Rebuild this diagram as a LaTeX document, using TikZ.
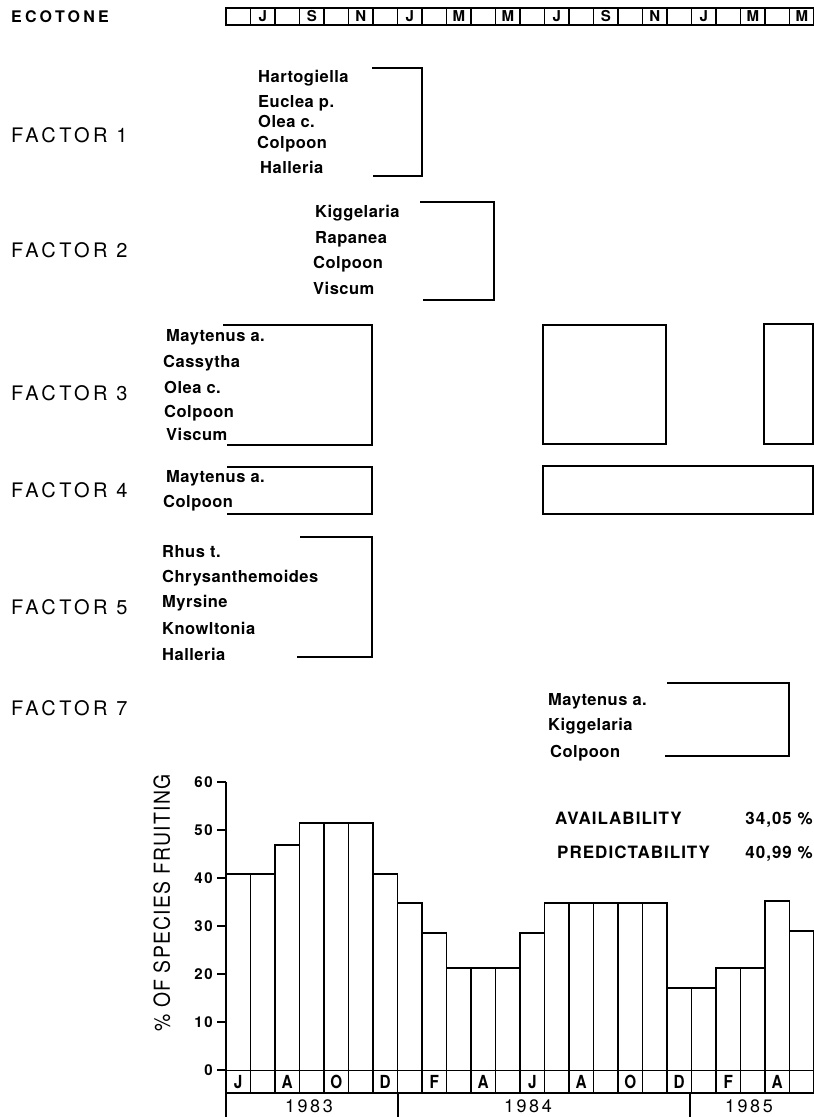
\documentclass[tikz,border=0pt]{standalone}
\usepackage{fontspec}
\setmainfont{TeX Gyre Heros}
\newfontfamily\spf[LetterSpace=3]{TeX Gyre Heros}
\newfontfamily\facf[LetterSpace=17]{TeX Gyre Heros}
\newfontfamily\ecof[LetterSpace=20]{TeX Gyre Heros}
\newfontfamily\numf[LetterSpace=12]{TeX Gyre Heros}
\newfontfamily\avf[LetterSpace=6]{TeX Gyre Heros}
\newfontfamily\ylf[LetterSpace=6,FakeStretch=0.88]{TeX Gyre Heros}
\newfontfamily\yrf[LetterSpace=14]{TeX Gyre Heros}
\newfontfamily\mof{TeX Gyre Heros}
\newfontfamily\cmof[FakeStretch=0.85]{TeX Gyre Heros}
\tikzset{
  sp/.style={anchor=west, inner sep=0pt, text height=11.8pt, text depth=0pt, font=\spf\bfseries\fontsize{16.5}{17}\selectfont},
  fac/.style={anchor=west, inner sep=0pt, text height=14.3pt, text depth=0pt, font=\facf\fontsize{20}{20}\selectfont},
  brk/.style={line width=1.6pt, line join=miter},
  bar/.style={line width=1.7pt},
  tnum/.style={anchor=east, inner sep=0pt, text height=10.8pt, text depth=0pt, font=\numf\bfseries\fontsize{15}{15}\selectfont},
  mon/.style={inner sep=0pt, text height=10.8pt, text depth=0pt, font=\mof\bfseries\fontsize{15}{15}\selectfont},
  cmon/.style={inner sep=0pt, text height=12.9pt, text depth=0pt, font=\cmof\bfseries\fontsize{18}{18}\selectfont},
  yr/.style={inner sep=0pt, text height=12.9pt, text depth=0pt, font=\yrf\fontsize{18}{18}\selectfont},
  av/.style={inner sep=0pt, text height=12.2pt, text depth=0pt, font=\avf\bfseries\fontsize{17}{17}\selectfont},
}
\begin{document}
\begin{tikzpicture}[x=1pt,y=-1pt]
\useasboundingbox (0,0) rectangle (814,1117);
% ---------- top strip ----------
\node[anchor=west, inner sep=0pt, text height=11.5pt, text depth=0pt, font=\ecof\bfseries\fontsize{16}{16}\selectfont] (eco) at (11,17) {ECOTONE};
\draw[line width=1.5pt] (226,8) rectangle (813.5,25);
\foreach \i in {1,...,23} { \draw[line width=1.5pt] ({226+24.5*\i},8) -- ({226+24.5*\i},25); }
\foreach \l [count=\k] in {J,S,N,J,M,M,J,S,N,J,M,M} {
  \node[mon] (tm\k) at ({226+24.5*(2*\k-1)+12.25},16.5) {\l};
}
% ---------- factor labels ----------
\node[fac] (f1) at (11,135) {FACTOR 1};
\node[fac] (f2) at (11,250) {FACTOR 2};
\node[fac] (f3) at (11,393) {FACTOR 3};
\node[fac] (f4) at (11,490) {FACTOR 4};
\node[fac] (f5) at (11,607) {FACTOR 5};
\node[fac] (f7) at (11,708) {FACTOR 7};
% ---------- factor 1 ----------
\node[sp] (a1) at (258,77) {Hartogiella};
\node[sp] (a2) at (258,102) {Euclea p.};
\node[sp] (a3) at (258,122) {Olea c.};
\node[sp] (a4) at (257,143) {Colpoon};
\node[sp] (a5) at (260,168) {Halleria};
\draw[brk] (372,68) -- (422,68) -- (422,176) -- (373,176);
% ---------- factor 2 ----------
\node[sp] (b1) at (315,212) {Kiggelaria};
\node[sp] (b2) at (315,238) {Rapanea};
\node[sp] (b3) at (313,263) {Colpoon};
\node[sp] (b4) at (313,289) {Viscum};
\draw[brk] (420,202) -- (494,202) -- (494,300) -- (423,300);
% ---------- factor 3 ----------
\node[sp] (c1) at (166,336) {Maytenus a.};
\node[sp] (c2) at (163,362) {Cassytha};
\node[sp] (c3) at (164,388) {Olea c.};
\node[sp] (c4) at (164,412) {Colpoon};
\node[sp] (c5) at (166,435) {Viscum};
\draw[brk] (223,325) -- (372,325) -- (372,445) -- (227,445);
\draw[brk] (543,325) rectangle (666,444);
\draw[brk] (764,324) rectangle (813,444);
% ---------- factor 4 ----------
\node[sp] (d1) at (166,477) {Maytenus a.};
\node[sp] (d2) at (163,502) {Colpoon};
\draw[brk] (227,467) -- (372,467) -- (372,514) -- (227,514);
\draw[brk] (543,466) rectangle (813,514);
% ---------- factor 5 ----------
\node[sp] (e1) at (162,552) {Rhus t.};
\node[sp] (e2) at (162,577) {Chrysanthemoides};
\node[sp] (e3) at (162,602) {Myrsine};
\node[sp] (e4) at (162,629) {Knowltonia};
\node[sp] (e5) at (162,655) {Halleria};
\draw[brk] (300,537) -- (372,537) -- (372,657) -- (297,657);
% ---------- factor 7 ----------
\node[sp] (g1) at (548,700) {Maytenus a.};
\node[sp] (g2) at (548,725) {Kiggelaria};
\node[sp] (g3) at (550,752) {Colpoon};
\draw[brk] (667,683) -- (789,683) -- (789,756) -- (665,756);
% ---------- bar chart ----------
\foreach \h [count=\i] in {874,874,845,823,823,823,874,903,933,968,968,968,933,903,903,903,903,903,988,988,968,968,901,931} {
  \draw[bar] ({226+24.5*(\i-1)},1093) rectangle ({226+24.5*\i},\h);
}
\draw[line width=1pt] (217,1070) -- (814,1070);
\draw[bar] (226,782) -- (226,1117);
\draw[bar] (398,1093) -- (398,1117);
\draw[bar] (690,1093) -- (690,1117);
\foreach \v [count=\k from 0] in {0,10,20,30,40,50,60} {
  \draw[line width=1.3pt] (217,{1070-48*\k}) -- (226,{1070-48*\k});
  \node[tnum] (t\v) at (213,{1070-48*\k}) {\v};
}
\foreach \l/\b in {J/1,A/3,O/5,D/7,F/9,A/11,J/13,A/15,O/17,D/19,F/21,A/23} {
  \node[cmon] (cm\b) at ({226+24.5*(\b-1)+12.25},1082) {\l};
}
\node[yr] (y83) at (309,1106) {1983};
\node[yr] (y84) at (528,1106) {1984};
\node[yr] (y85) at (749,1106) {1985};
\node[rotate=90, inner sep=0pt, text height=15.8pt, text depth=0pt, font=\ylf\fontsize{22}{22}\selectfont] (ylab) at (162,903) {\% OF SPECIES FRUITING};
\node[av, anchor=west] (avl) at (555,818) {AVAILABILITY};
\node[av, anchor=east] (avv) at (813,818) {34,05 \%};
\node[av, anchor=west] (prl) at (557,852) {PREDICTABILITY};
\node[av, anchor=east] (prv) at (813,852) {40,99 \%};
\end{tikzpicture}
\end{document}
